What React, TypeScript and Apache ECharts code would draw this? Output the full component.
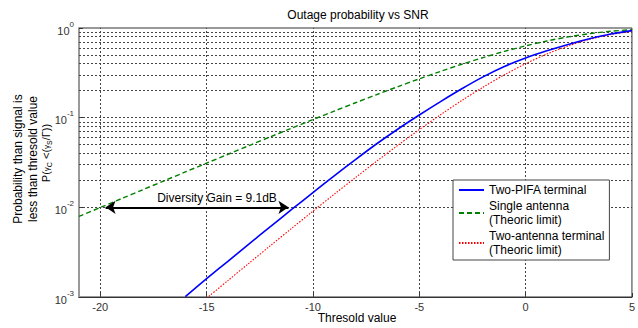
import React, { useEffect, useRef } from "react";
import * as echarts from "echarts";

// Threshold (dB) sample points
const snrDb = [-21, -20, -19, -18, -17, -16, -15, -14, -13, -12, -11, -10, -9, -8, -7, -6, -5, -4, -3, -2, -1, 0, 1, 2, 3, 4, 5];

// Single antenna (theoric limit)
const singleAntenna = [0.00791, 0.00995, 0.01251, 0.01572, 0.01976, 0.02481, 0.03113, 0.03903, 0.04888, 0.06115, 0.07636, 0.09516, 0.1183, 0.1466, 0.1809, 0.2221, 0.2711, 0.3284, 0.3942, 0.4679, 0.5481, 0.6321, 0.716, 0.7951, 0.864, 0.9189, 0.9577];

// Two-antenna terminal (theoric limit)
const twoAntenna = [null, null, null, null, null, null, 0.000969, 0.001523, 0.002389, 0.003739, 0.005831, 0.009055, 0.01399, 0.02148, 0.03272, 0.04934, 0.07348, 0.1078, 0.1554, 0.2189, 0.3004, 0.3996, 0.5127, 0.6321, 0.7465, 0.8444, 0.9171];

// Two-PIFA terminal (measured)
const twoPifa = [null, null, null, null, null, 0.00101, 0.0016, 0.0025, 0.00391, 0.0061, 0.00946, 0.0146, 0.0224, 0.0341, 0.0512, 0.0748, 0.107, 0.151, 0.21, 0.285, 0.372, 0.462, 0.556, 0.655, 0.758, 0.857, 0.935];

const seriesNames = ["Two-PIFA terminal", "Single antenna\n(Theoric limit)", "Two-antenna terminal\n(Theoric limit)"];

const xTicks = [-20, -15, -10, -5, 0, 5];
const yGridValues = [
  0.002, 0.003, 0.004, 0.005, 0.006, 0.007, 0.008, 0.009, 0.01,
  0.02, 0.03, 0.04, 0.05, 0.06, 0.07, 0.08, 0.09, 0.1,
  0.2, 0.3, 0.4, 0.5, 0.6, 0.7, 0.8, 0.9,
];

// Diversity gain annotation
const gainArrowDb = [-19.75, -11.15];
const gainArrowLevel = 0.01;
const gainLabel = "Diversity Gain = 9.1dB";

const titleText = "Outage probability vs SNR";
const xName = "Thresold value";
const yNameLines = ["Probability than signal is", "less than thresold value"];

const FONT = "Liberation Sans, Arial, Helvetica, sans-serif";

function toPairs(values: (number | null)[]) {
  const out: [number, number][] = [];
  snrDb.forEach((x, i) => {
    const v = values[i];
    if (v !== null && v !== undefined) out.push([x, v]);
  });
  return out;
}

export default function App() {
  const ref = useRef<HTMLDivElement>(null);

  useEffect(() => {
    if (!ref.current) return;
    const chart = echarts.init(ref.current, undefined, { renderer: "svg" });

    const gridLines = [
      ...xTicks.filter((v) => v > -21 && v < 5).map((v) => ({ xAxis: v })),
      ...yGridValues.map((v) => ({ yAxis: v })),
    ];

    chart.setOption({
      animation: false,
      backgroundColor: "#fff",
      textStyle: { fontFamily: FONT },
      grid: {
        left: 79,
        right: 1,
        top: 28,
        bottom: 31,
        show: true,
        borderColor: "#333",
        borderWidth: 1,
        backgroundColor: "#fff",
      },
      xAxis: {
        type: "value",
        min: -21,
        max: 5,
        axisLine: { show: true, onZero: false, lineStyle: { color: "#333", width: 1 } },
        axisTick: { show: true, inside: true, length: 4, customValues: xTicks, lineStyle: { color: "#333" } },
        axisLabel: { customValues: xTicks, fontSize: 11, color: "#333", margin: 4, fontFamily: FONT },
        splitLine: { show: false },
      },
      yAxis: {
        type: "log",
        logBase: 10,
        min: 0.001,
        max: 1,
        axisLine: { show: true, onZero: false, lineStyle: { color: "#999", width: 2 } },
        axisTick: { show: true, inside: true, length: 4, lineStyle: { color: "#333" } },
        axisLabel: {
          margin: 5,
          color: "#333",
          fontFamily: FONT,
          formatter: (v: number) => {
            const e = Math.round(Math.log10(v));
            return `{b|10}{s|${e}}`;
          },
          rich: {
            b: { fontSize: 11, lineHeight: 16, verticalAlign: "bottom", color: "#333", fontFamily: FONT },
            s: { fontSize: 8, lineHeight: 16, verticalAlign: "top", color: "#333", fontFamily: FONT },
          },
        },
        splitLine: { show: false },
      },
      legend: {
        data: seriesNames,
        orient: "vertical",
        left: 453,
        top: 180,
        z: 20,
        padding: [3, 5, 3, 5],
        itemGap: 2,
        itemWidth: 25,
        itemHeight: 14,
        backgroundColor: "#fff",
        borderColor: "#444",
        borderWidth: 1,
        borderRadius: 0,
        itemStyle: { opacity: 0 },
        textStyle: { fontSize: 12, lineHeight: 14, color: "#000", fontFamily: FONT },
      },
      graphic: [
        {
          type: "text",
          x: 358,
          y: 15,
          style: { text: titleText, align: "center", verticalAlign: "middle", fontSize: 12, fill: "#000", fontFamily: FONT },
        },
        {
          type: "text",
          x: 357,
          y: 318,
          style: { text: xName, align: "center", verticalAlign: "middle", fontSize: 12, fill: "#000", fontFamily: FONT },
        },
        {
          type: "text",
          x: 18,
          y: 159,
          rotation: Math.PI / 2,
          style: { text: yNameLines[0], align: "center", verticalAlign: "middle", fontSize: 12, fill: "#000", fontFamily: FONT },
        },
        {
          type: "text",
          x: 33,
          y: 159,
          rotation: Math.PI / 2,
          style: { text: yNameLines[1], align: "center", verticalAlign: "middle", fontSize: 12, fill: "#000", fontFamily: FONT },
        },
        {
          type: "text",
          x: 46,
          y: 153,
          rotation: Math.PI / 2,
          style: {
            text: "{n|P(}{g|γ}{s|C}{n| <(}{g|γ}{s|S}{n|/Γ))}",
            align: "center",
            verticalAlign: "middle",
            rich: {
              n: { fontSize: 11, lineHeight: 14, verticalAlign: "middle", fill: "#000", fontFamily: FONT },
              g: { fontSize: 8, lineHeight: 14, verticalAlign: "middle", fill: "#000", fontFamily: FONT },
              s: { fontSize: 7, lineHeight: 14, verticalAlign: "bottom", fill: "#000", fontFamily: FONT },
            },
          },
        },
        {
          type: "text",
          x: 217,
          y: 198,
          z: 10,
          style: { text: gainLabel, align: "center", verticalAlign: "middle", fontSize: 12, fill: "#000", fontFamily: FONT },
        },
      ],
      series: [
        {
          type: "line",
          name: "__grid",
          data: [],
          z: 1,
          silent: true,
          markLine: {
            z: 1,
            silent: true,
            symbol: "none",
            animation: false,
            label: { show: false },
            lineStyle: { type: [2, 2], color: "#444", width: 1 },
            emphasis: { disabled: true },
            data: gridLines,
          },
        },
        {
          type: "line",
          name: seriesNames[1],
          data: toPairs(singleAntenna),
          showSymbol: false,
          symbol: "none",
          smooth: 0.3,
          z: 3,
          color: "#008000",
          lineStyle: { color: "#008000", width: 1.4, type: [5, 3] },
        },
        {
          type: "line",
          name: seriesNames[2],
          data: toPairs(twoAntenna),
          showSymbol: false,
          symbol: "none",
          smooth: 0.3,
          z: 3,
          color: "#ff0000",
          lineStyle: { color: "#ff0000", width: 1.1, type: [1.5, 1.5] },
        },
        {
          type: "line",
          name: seriesNames[0],
          data: toPairs(twoPifa),
          showSymbol: false,
          symbol: "none",
          smooth: 0.3,
          z: 4,
          color: "#0000ff",
          lineStyle: { color: "#0000ff", width: 1.6 },
          markLine: {
            z: 6,
            silent: true,
            symbol: ["arrow", "arrow"],
            symbolSize: 10,
            animation: false,
            label: { show: false },
            lineStyle: { type: "solid", color: "#000", width: 2 },
            emphasis: { disabled: true },
            data: [
              [
                { coord: [gainArrowDb[0], gainArrowLevel] },
                { coord: [gainArrowDb[1], gainArrowLevel] },
              ],
            ],
          },
        },
      ],
    });

    return () => chart.dispose();
  }, []);

  return (
    <div
      ref={ref}
      style={{ position: "absolute", left: 0, top: 0, width: 638, height: 328 }}
    />
  );
}
